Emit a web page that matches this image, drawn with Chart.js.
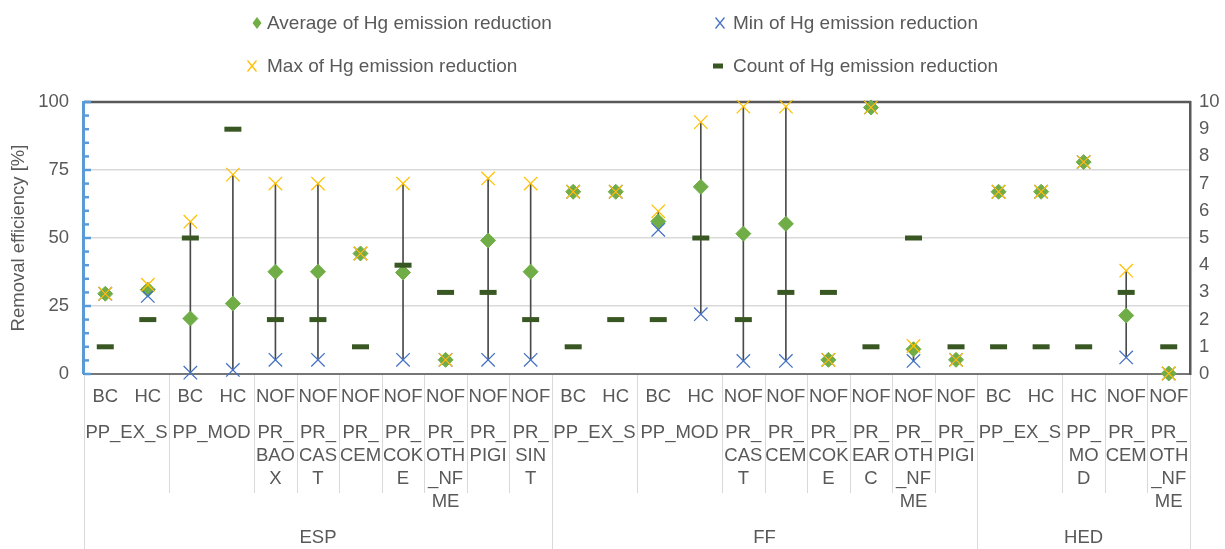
<!DOCTYPE html>
<html>
<head>
<meta charset="utf-8">
<script src="https://cdn.jsdelivr.net/npm/chart.js@4.4.1/dist/chart.umd.min.js"></script>
<style>
  body { margin: 0; background: #fff; }
  #wrap { position: relative; width: 1225px; height: 549px; font-family: "Liberation Sans", Arial, sans-serif; color: #595959; }
  .leg { position: absolute; font-size: 19px; line-height: 22px; white-space: nowrap; }
  .leg svg { position: absolute; top: 0; }
</style>
</head>
<body>
<div id="wrap">
  <canvas id="myChart" width="1225" height="549"></canvas>
  <div class="leg" style="left:267px;top:12px">
    <svg width="12" height="22" style="left:-16px"><polygon points="6,5 10.5,11 6,17 1.5,11" fill="#70AD47"/></svg>Average of Hg emission reduction</div>
  <div class="leg" style="left:733px;top:12px">
    <svg width="12" height="22" style="left:-19px"><path d="M1.5,5.5 L10.5,16.5 M10.5,5.5 L1.5,16.5" stroke="#4472C4" stroke-width="1.3"/></svg>Min of Hg emission reduction</div>
  <div class="leg" style="left:267px;top:55px">
    <svg width="12" height="22" style="left:-21px"><path d="M1.5,5.5 L10.5,16.5 M10.5,5.5 L1.5,16.5" stroke="#FFC000" stroke-width="1.3"/></svg>Max of Hg emission reduction</div>
  <div class="leg" style="left:733px;top:55px">
    <svg width="12" height="22" style="left:-21px"><rect x="1" y="8.5" width="10" height="5" fill="#385723"/></svg>Count of Hg emission reduction</div>
</div>
<script>
// categories: device / fuel / sector (sector text with its wrapped lines)
const devices = ['ESP','ESP','ESP','ESP','ESP','ESP','ESP','ESP','ESP','ESP','ESP',
                 'FF','FF','FF','FF','FF','FF','FF','FF','FF','FF',
                 'HED','HED','HED','HED','HED'];
const fuels = ['BC','HC','BC','HC','NOF','NOF','NOF','NOF','NOF','NOF','NOF',
               'BC','HC','BC','HC','NOF','NOF','NOF','NOF','NOF','NOF',
               'BC','HC','HC','NOF','NOF'];
const sectors = ['PP_EX_S','PP_EX_S','PP_MOD','PP_MOD','PR_\nBAO\nX','PR_\nCAS\nT','PR_\nCEM','PR_\nCOK\nE','PR_\nOTH\n_NF\nME','PR_\nPIGI','PR_\nSIN\nT',
                 'PP_EX_S','PP_EX_S','PP_MOD','PP_MOD','PR_\nCAS\nT','PR_\nCEM','PR_\nCOK\nE','PR_\nEAR\nC','PR_\nOTH\n_NF\nME','PR_\nPIGI',
                 'PP_EX_S','PP_EX_S','PP_\nMO\nD','PR_\nCEM','PR_\nOTH\n_NF\nME'];

// Hg emission reduction [%]
const avgValues = [29.5, 31, 20.4, 25.9, 37.6, 37.6, 44.3, 37.3, 5.2, 49.1, 37.6,
                   67, 67, 56.1, 68.8, 51.6, 55.2, 5.2, 98, 9.1, 5.2,
                   67, 67, 77.9, 21.5, 0.2];
const minValues = [29.5, 28.7, 0.5, 1.5, 5.2, 5.2, 44.3, 5.2, 5.2, 5.2, 5.2,
                   67, 67, 53, 22, 4.8, 4.8, 5.2, 98, 4.8, 5.2,
                   67, 67, 77.9, 6.1, 0.2];
const maxValues = [29.5, 32.8, 56, 73.3, 70, 70, 44.3, 70, 5.2, 71.9, 70,
                   67, 67, 59.8, 92.6, 98.3, 98.3, 5.2, 98, 10.3, 5.2,
                   67, 67, 77.9, 38, 0.2];
const countValues = [1, 2, 5, 9, 2, 2, 1, 4, 3, 3, 2,
                     1, 2, 2, 5, 2, 3, 3, 1, 5, 1,
                     1, 1, 1, 3, 1];

const leftTicks = [0, 25, 50, 75, 100];
const rightTicks = [0, 1, 2, 3, 4, 5, 6, 7, 8, 9, 10];

const labels = devices.map((d, i) => d + ' ' + fuels[i] + ' ' + sectors[i].replace(/\n/g, ''));
const txt = '#595959';
const font = { family: '"Liberation Sans", Arial, sans-serif', size: 18.5 };

// frame: top border, blue left axis with minor ticks, category axis labels
const framePlugin = {
    id: 'frame',
    beforeDatasetsDraw(chart) {
        const { ctx, chartArea: a, scales: { y } } = chart;
        ctx.save();
        ctx.strokeStyle = '#595959';
        ctx.lineWidth = 2.5;
        ctx.beginPath();
        ctx.moveTo(a.left, a.top);
        ctx.lineTo(a.right + 1, a.top);
        ctx.stroke();
        ctx.strokeStyle = '#5B9BD5';
        ctx.lineWidth = 3;
        ctx.beginPath();
        ctx.moveTo(a.left - 0.5, a.top - 1);
        ctx.lineTo(a.left - 0.5, a.bottom);
        ctx.stroke();
        ctx.lineWidth = 2.5;
        for (let v = 0; v <= 100; v += 5) {
            const py = y.getPixelForValue(v);
            ctx.beginPath();
            ctx.moveTo(a.left, py);
            ctx.lineTo(a.left + (v % 25 === 0 ? 7 : 5), py);
            ctx.stroke();
        }
        ctx.restore();
    },
    afterDraw(chart) {
        const { ctx, chartArea: a, scales: { x } } = chart;
        const n = labels.length;
        const w = (a.right - a.left) / n;
        const H = chart.height;
        ctx.save();
        ctx.font = font.size + 'px ' + font.family;
        ctx.fillStyle = txt;
        ctx.textAlign = 'center';
        ctx.textBaseline = 'middle';
        ctx.strokeStyle = '#d9d9d9';
        ctx.lineWidth = 1;
        const vline = (px, bottom) => {
            ctx.beginPath();
            ctx.moveTo(Math.round(px) + 0.5, a.bottom + 1);
            ctx.lineTo(Math.round(px) + 0.5, bottom);
            ctx.stroke();
        };
        vline(a.left, H);
        fuels.forEach((f, i) => ctx.fillText(f, x.getPixelForValue(i), 397));
        // sector spans
        let s = 0;
        for (let i = 1; i <= n; i++) {
            if (i === n || sectors[i] !== sectors[s] || devices[i] !== devices[s]) {
                const cx = (x.getPixelForValue(s) + x.getPixelForValue(i - 1)) / 2;
                sectors[s].split('\n').forEach((t, k) => ctx.fillText(t, cx, 433 + k * 23));
                const edge = x.getPixelForValue(i - 1) + w / 2;
                vline(edge, (i === n || devices[i] !== devices[s]) ? H : 493);
                s = i;
            }
        }
        // device groups
        s = 0;
        for (let i = 1; i <= n; i++) {
            if (i === n || devices[i] !== devices[s]) {
                ctx.fillText(devices[s], (x.getPixelForValue(s) + x.getPixelForValue(i - 1)) / 2, 538);
                s = i;
            }
        }
        ctx.restore();
    }
};

new Chart(document.getElementById('myChart'), {
    type: 'bar',
    data: {
        labels: labels,
        datasets: [
            {
                type: 'line', label: 'Max of Hg emission reduction', data: maxValues,
                showLine: false, pointStyle: 'crossRot', pointRadius: 9.5, pointBorderWidth: 1.3,
                borderColor: '#FFC000', backgroundColor: '#FFC000', clip: false, order: 1
            },
            {
                type: 'line', label: 'Min of Hg emission reduction', data: minValues,
                showLine: false, pointStyle: 'crossRot', pointRadius: 9.5, pointBorderWidth: 1.3,
                borderColor: '#4472C4', backgroundColor: '#4472C4', clip: false, order: 2
            },
            {
                type: 'line', label: 'Count of Hg emission reduction', data: countValues, yAxisID: 'y2',
                showLine: false, pointStyle: 'line', pointRadius: 8.5, pointBorderWidth: 5,
                borderColor: '#385723', backgroundColor: '#385723', clip: false, order: 3
            },
            {
                type: 'line', label: 'Average of Hg emission reduction', data: avgValues,
                showLine: false, pointStyle: 'rectRot', pointRadius: 7.5, pointBorderWidth: 1,
                borderColor: '#70AD47', backgroundColor: '#70AD47', clip: false, order: 4
            },
            {
                type: 'bar', label: 'range', data: minValues.map((m, i) => [m, maxValues[i]]),
                backgroundColor: '#4a4a4a', barThickness: 1, borderWidth: 0, order: 5
            }
        ]
    },
    options: {
        responsive: false,
        animation: false,
        devicePixelRatio: 1,
        layout: { padding: { top: 102, bottom: 175, left: 0, right: 0 } },
        plugins: { legend: { display: false }, tooltip: { enabled: false } },
        scales: {
            x: {
                ticks: { display: false },
                grid: { display: false },
                border: { color: '#767676', width: 2 },
                afterFit: s => { s.height = 0; }
            },
            y: {
                position: 'left', min: 0, max: 100,
                afterBuildTicks: s => { s.ticks = leftTicks.map(v => ({ value: v })); },
                afterFit: s => { s.width = 84; },
                ticks: { padding: 15, color: txt, font: font },
                grid: {
                    drawTicks: false, lineWidth: 1.5,
                    color: c => (c.tick && c.tick.value > 0 && c.tick.value < 100) ? '#d9d9d9' : 'rgba(0,0,0,0)'
                },
                border: { display: false },
                title: { display: true, text: 'Removal efficiency [%]', color: txt, font: font, padding: { top: 8, bottom: 0 } }
            },
            y2: {
                position: 'right', min: 0, max: 10,
                afterBuildTicks: s => { s.ticks = rightTicks.map(v => ({ value: v })); },
                afterFit: s => { s.width = 35; },
                ticks: { padding: 9, color: txt, font: font },
                grid: { drawOnChartArea: false, drawTicks: false },
                border: { color: '#595959', width: 2.5 }
            }
        }
    },
    plugins: [framePlugin]
});
</script>
</body>
</html>
